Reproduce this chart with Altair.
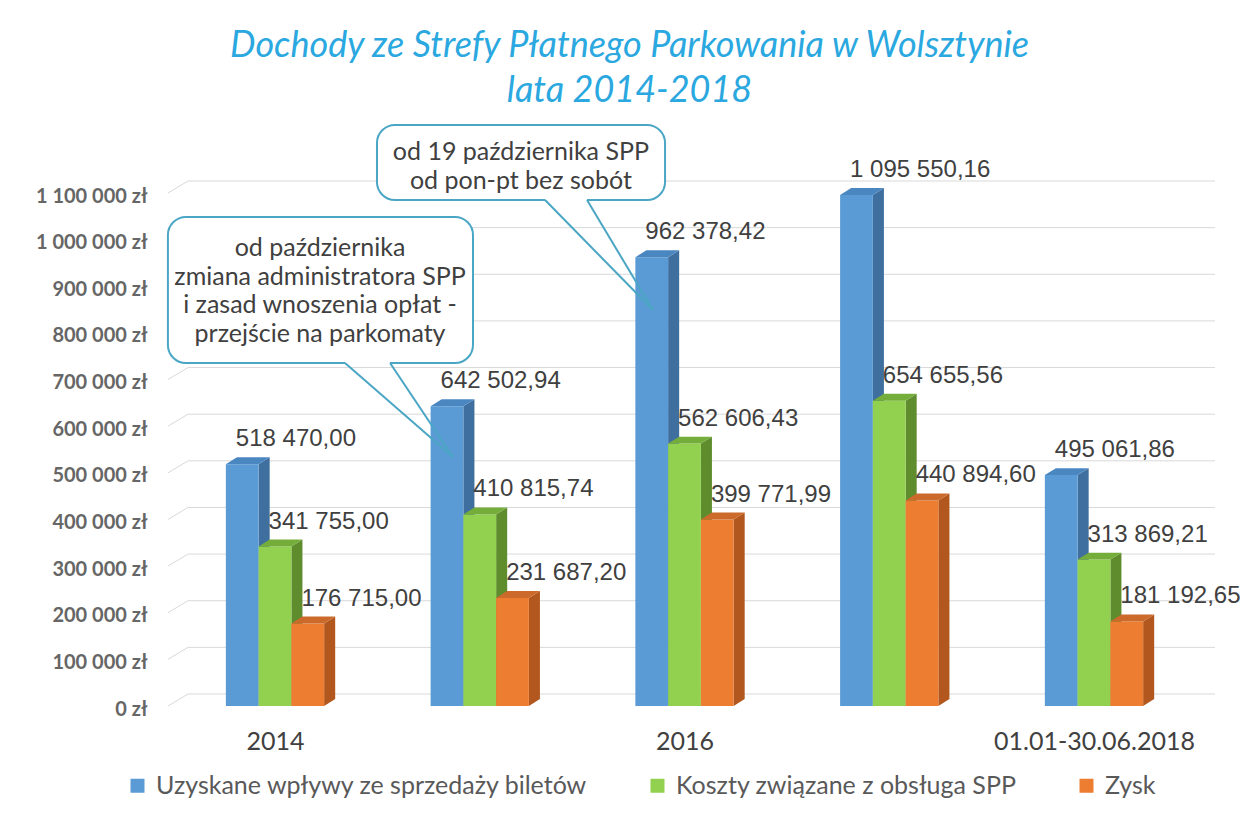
import json
import altair as alt
import pandas as pd

# ---------------- data ----------------
categories = ["2014", "2015", "2016", "2017", "01.01-30.06.2018"]
series_names = [
    "Uzyskane wpływy ze sprzedaży biletów",
    "Koszty związane z obsługa SPP",
    "Zysk",
]
wplywy = [518470.00, 642502.94, 962378.42, 1095550.16, 495061.86]
koszty = [341755.00, 410815.74, 562606.43, 654655.56, 313869.21]
zysk = [176715.00, 231687.20, 399771.99, 440894.60, 181192.65]

y_ticks = [0, 100000, 200000, 300000, 400000, 500000, 600000, 700000, 800000, 900000, 1000000, 1100000]
y_tick_labels = ["0 zł", "100 000 zł", "200 000 zł", "300 000 zł", "400 000 zł", "500 000 zł",
                 "600 000 zł", "700 000 zł", "800 000 zł", "900 000 zł", "1 000 000 zł", "1 100 000 zł"]
x_label_idx = [0, 2, 4]

# callouts (data-space annotation geometry)
callout_text = [
    "od października\nzmiana administratora SPP\ni zasad wnoszenia opłat -\nprzejście na parkomaty",
    "od 19 października SPP\nod pon-pt bez sobót",
]
box_x0 = [-0.523, 0.498]
box_x1 = [0.967, 1.905]
box_y_top = [1048450, 1245700]
box_y_bot = [735420, 1084900]
text_x = [0.22, 1.201]
text_y = [982000, 1187800]   # first line of each callout
tail_ax = [0.342, 1.319]
tail_bx = [0.562, 1.524]
tail_tx = [0.869, 1.846]
tail_ty = [533875, 849000]

# ---------------- styles ----------------
front_colors = ["#5b9bd5", "#92d050", "#ed7d31"]
side_colors = ["#3f6f9e", "#5f8d2e", "#b2581f"]
top_colors = ["#4a86c0", "#74ad3a", "#cb6a2b"]
BW = 0.16          # bar width in category units
DX = 0.054         # 3D depth (x, category units)
DYV = 15000        # 3D depth (y, value units)
TEXT_DARK = "#404040"
FONT = "Lato"

values_by_series = [wplywy, koszty, zysk]

front_rows, label_rows = [], []
side_dfs, top_dfs = [], []
for s, vals in enumerate(values_by_series):
    side_rows, top_rows = [], []
    for i, v in enumerate(vals):
        x0 = i - 1.5 * BW + s * BW
        x1 = x0 + BW
        bid = f"b{i}"
        front_rows.append(dict(series=series_names[s], x0=x0, x1=x1, v=v))
        side_rows.append(dict(bid=bid, px=x1, py=0.0, py2=v))
        side_rows.append(dict(bid=bid, px=x1 + DX, py=float(DYV), py2=v + DYV))
        top_rows.append(dict(bid=bid, ty=v, tx=x0, tx2=x1))
        top_rows.append(dict(bid=bid, ty=v + DYV, tx=x0 + DX, tx2=x1 + DX))
        lab = f"{v:,.2f}".replace(",", " ").replace(".", ",")
        label_rows.append(dict(x0=x0, v=v, label=lab))
    side_dfs.append(pd.DataFrame(side_rows))
    top_dfs.append(pd.DataFrame(top_rows))

front_df = pd.DataFrame(front_rows)
label_df = pd.DataFrame(label_rows)
grid_df = pd.DataFrame(dict(v=y_ticks))
box_df = pd.DataFrame(dict(x0=box_x0, x1=box_x1, yt=box_y_top, yb=box_y_bot))
ctext_df = pd.DataFrame(dict(x=text_x, y=text_y, t=callout_text))
tail_df = pd.DataFrame(dict(ax=tail_ax, bx=tail_bx, tx=tail_tx, ty=tail_ty, yb=box_y_bot))

W, H = 1047, 513
xscale = alt.Scale(domain=[-0.5226, 4.591], nice=False, zero=False)
yscale = alt.Scale(domain=[0, 1100000], nice=False)

x_axis = alt.Axis(
    values=x_label_idx,
    labelExpr=f"{json.dumps(categories, ensure_ascii=False)}[datum.value]",
    domain=False, ticks=False, grid=False, title=None,
    labelFont=FONT, labelFontSize=25, labelColor=TEXT_DARK, labelPadding=23,
    labelLimit=400,
)
y_axis = alt.Axis(
    values=y_ticks,
    labelExpr=f"{json.dumps(y_tick_labels, ensure_ascii=False)}[round(datum.value / 100000)]",
    domain=False, ticks=False, grid=False, title=None,
    labelFont=FONT, labelFontSize=20, labelFontWeight="bold", labelColor="#666666",
    labelPadding=21, labelOffset=3, labelLimit=300,
)


def X(field, **kw):
    return alt.X(field, scale=xscale, axis=x_axis, **kw)


def Y(field, **kw):
    return alt.Y(field, scale=yscale, axis=y_axis, **kw)


grid_slant = alt.Chart(grid_df).mark_rule(color="#d9d9d9", strokeWidth=1, y2Offset=-12).encode(
    x=alt.value(0), x2=alt.value(20),
    y=Y("v:Q"), y2="v:Q",
)
grid_lines = alt.Chart(grid_df).mark_rule(color="#d9d9d9", strokeWidth=1, yOffset=-12).encode(
    x=alt.value(20), x2=alt.value(W),
    y=Y("v:Q"),
)

side_layers = []
for s in range(3):
    side_layers.append(
        alt.Chart(side_dfs[s]).mark_area(
            color=side_colors[s], opacity=1, interpolate="linear", line=False
        ).encode(
            x=X("px:Q"),
            y=Y("py:Q", stack=None),
            y2="py2:Q",
            detail="bid:N",
        )
    )

top_layers = []
for s in range(3):
    top_layers.append(
        alt.Chart(top_dfs[s]).mark_area(
            color=top_colors[s], orient="horizontal", opacity=1, interpolate="linear", line=False
        ).encode(
            y=Y("ty:Q"),
            x=X("tx:Q", stack=None),
            x2="tx2:Q",
            detail="bid:N",
        )
    )

fronts = alt.Chart(front_df).mark_rect(opacity=1).encode(
    x=X("x0:Q"),
    x2="x1:Q",
    y=Y("v:Q"),
    y2=alt.datum(0),
    color=alt.Color(
        "series:N",
        scale=alt.Scale(domain=series_names, range=front_colors),
        legend=alt.Legend(
            title=None, orient="none", direction="horizontal", columns=3,
            legendX=-43, legendY=580, symbolType="square", symbolSize=196,
            symbolStrokeWidth=0, symbolOpacity=1,
            labelFont=FONT, labelFontSize=25, labelColor="#595959",
            columnPadding=57, labelOffset=6, padding=0, labelLimit=700,
        ),
    ),
)

labels = alt.Chart(label_df).mark_text(
    align="left", baseline="middle", dx=10, dy=-25,
    font="Liberation Sans", fontSize=24, color=TEXT_DARK,
).encode(
    x=X("x0:Q"),
    y=Y("v:Q"),
    text="label:N",
)

boxes = alt.Chart(box_df).mark_rect(
    fill="white", stroke="#4aa6c4", strokeWidth=2, cornerRadius=18,
).encode(
    x=X("x0:Q"), x2="x1:Q",
    y=Y("yt:Q"), y2="yb:Q",
)
tail_cover = alt.Chart(tail_df).mark_rule(color="white", strokeWidth=4).encode(
    x=X("ax:Q"), x2="bx:Q",
    y=Y("yb:Q"),
)
tail_a = alt.Chart(tail_df).mark_rule(color="#4aa6c4", strokeWidth=2).encode(
    x=X("ax:Q"), x2="tx:Q",
    y=Y("yb:Q"), y2="ty:Q",
)
tail_b = alt.Chart(tail_df).mark_rule(color="#4aa6c4", strokeWidth=2).encode(
    x=X("bx:Q"), x2="tx:Q",
    y=Y("yb:Q"), y2="ty:Q",
)
ctext = alt.Chart(ctext_df).mark_text(
    align="center", baseline="middle", lineBreak="\n", lineHeight=28.5,
    font=FONT, fontSize=25, color=TEXT_DARK,
).encode(
    x=X("x:Q"),
    y=Y("y:Q"),
    text="t:N",
)

chart = alt.layer(
    grid_slant, grid_lines, *side_layers, fronts, *top_layers, labels,
    boxes, tail_cover, tail_a, tail_b, ctext,
).properties(
    width=W, height=H,
    title=alt.TitleParams(
        text=["Dochody ze Strefy Płatnego Parkowania w Wolsztynie", "lata 2014-2018"],
        font=FONT, fontStyle="italic", fontWeight="normal", fontSize=36,
        color="#2aa8df", anchor="middle", dx=-62, offset=14, lineHeight=45,
    ),
    autosize=alt.AutoSizeParams(type="none"),
    padding={"left": 160, "top": 185, "right": 25, "bottom": 102},
    background="white",
).configure_view(stroke=None)

chart.save("out.html", embed_options={"renderer": "svg", "actions": False})
